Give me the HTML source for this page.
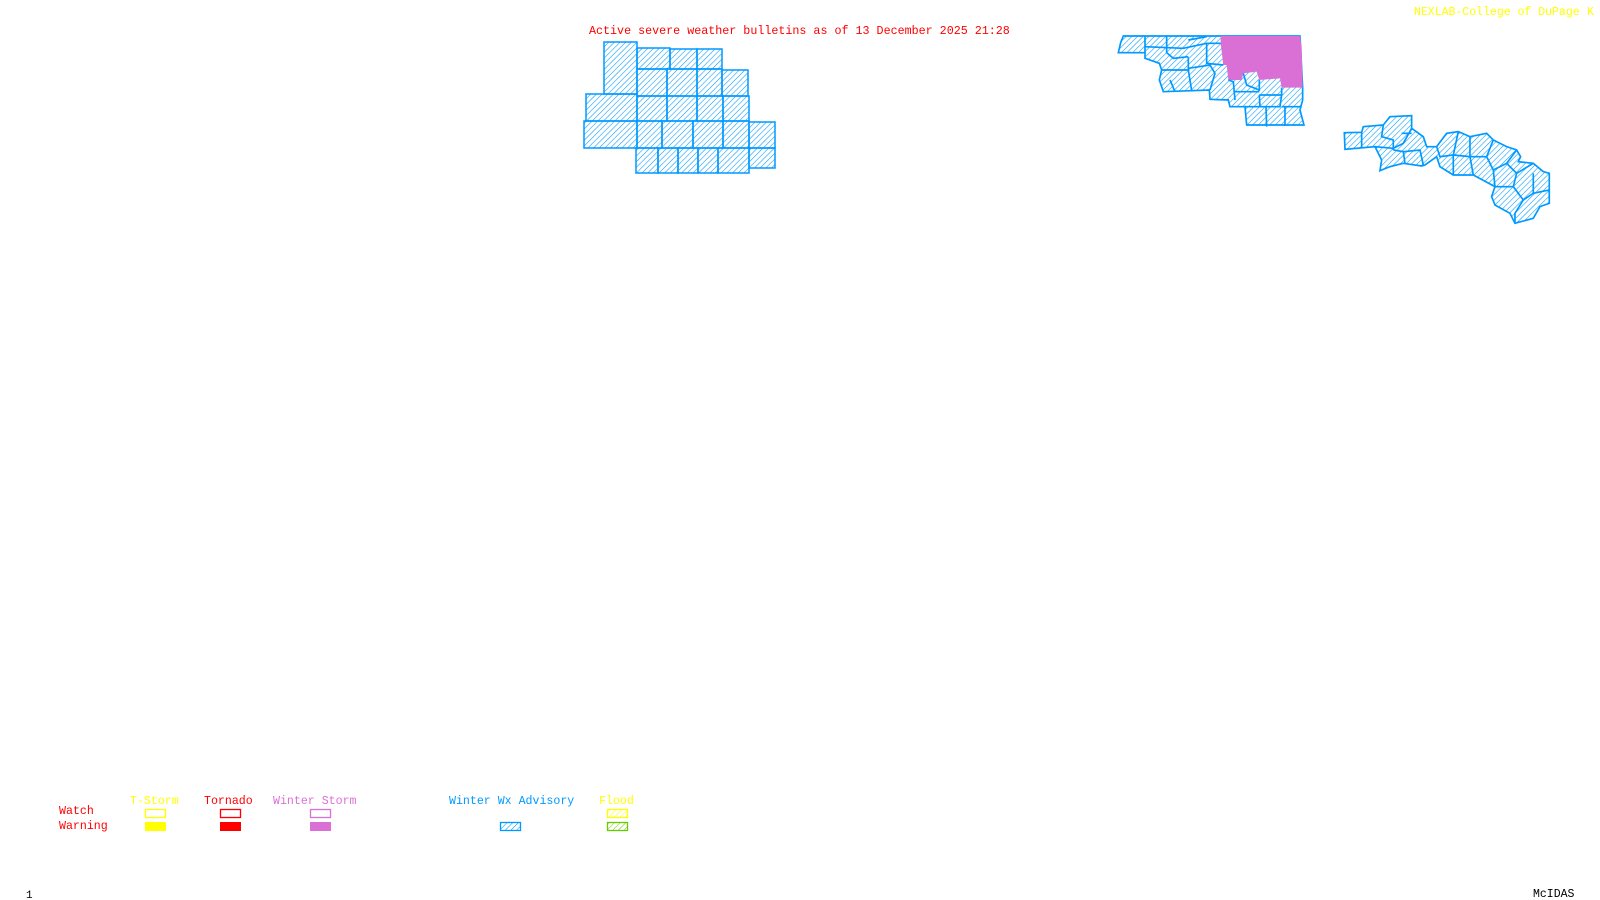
<!DOCTYPE html>
<html><head><meta charset="utf-8"><style>
html,body{margin:0;padding:0;background:#fff;width:1600px;height:900px;overflow:hidden}
svg{display:block}
text{font-family:"Liberation Mono","DejaVu Sans Mono",monospace}
</style></head><body>
<svg width="1600" height="900" viewBox="0 0 1600 900" xmlns="http://www.w3.org/2000/svg">
<defs>
<pattern id="h" patternUnits="userSpaceOnUse" width="4" height="4" patternTransform="rotate(45)">
<line x1="0" y1="0" x2="0" y2="4" stroke="#0099ff" stroke-width="1.1"/></pattern>
<pattern id="h3" patternUnits="userSpaceOnUse" width="12" height="12" patternTransform="rotate(45)">
<line x1="0" y1="0" x2="0" y2="12" stroke="#0099ff" stroke-width="3.3"/></pattern>
<pattern id="hy" patternUnits="userSpaceOnUse" width="4" height="4" patternTransform="rotate(45)">
<line x1="0" y1="0" x2="0" y2="4" stroke="#ffff00" stroke-width="1"/></pattern>
<pattern id="hg" patternUnits="userSpaceOnUse" width="4" height="4" patternTransform="rotate(45)">
<line x1="0" y1="0" x2="0" y2="4" stroke="#66cc00" stroke-width="1"/></pattern>
</defs>

<text x="589" y="34" font-size="11.7" fill="#ff0000">Active severe weather bulletins as of 13 December 2025 21:28</text>
<text x="1414" y="15" font-size="11.5" fill="#ffff00">NEXLAB-College of DuPage</text>
<text x="1587" y="15" font-size="11.5" fill="#ffff00">K</text>

<!-- cluster 1 -->
<g fill="url(#h)" stroke="#0099ff" stroke-width="1.5">
<rect x="604" y="42" width="33" height="52"/>
<rect x="637" y="48" width="33" height="21"/>
<rect x="670" y="49" width="27" height="20"/>
<rect x="697" y="49" width="25" height="20"/>
<rect x="637" y="69" width="30" height="27"/>
<rect x="667" y="69" width="30" height="27"/>
<rect x="697" y="69" width="25" height="27"/>
<rect x="722" y="70" width="26" height="26"/>
<rect x="586" y="94" width="51" height="27"/>
<rect x="637" y="96" width="30" height="25"/>
<rect x="667" y="96" width="30" height="25"/>
<rect x="697" y="96" width="26" height="25"/>
<rect x="723" y="96" width="26" height="25"/>
<rect x="584" y="121" width="53" height="27"/>
<rect x="637" y="121" width="25" height="27"/>
<rect x="662" y="121" width="31" height="27"/>
<rect x="693" y="121" width="30" height="27"/>
<rect x="723" y="121" width="26" height="27"/>
<rect x="749" y="122" width="26" height="26"/>
<rect x="636" y="148" width="22" height="25"/>
<rect x="658" y="148" width="20" height="25"/>
<rect x="678" y="148" width="20" height="25"/>
<rect x="698" y="148" width="20" height="25"/>
<rect x="718" y="148" width="31" height="25"/>
<rect x="749" y="148" width="26" height="20"/>
</g>

<!-- cluster 2 -->
<g transform="translate(1100,0) scale(0.3333)">
<polygon fill="url(#h3)" stroke="#0099ff" stroke-width="5" points="55,158 62,128 70,108 600,108 608,263 608,300 600,330 612,375 440,375 435,320 390,320 385,300 330,298 328,270 275,272 190,275 178,240 185,210 178,190 135,175 135,158"/>
<polygon fill="#da70d6" stroke="none" points="362,108 600,108 605,140 608,263 545,263 540,235 478,240 470,215 430,220 425,240 385,240 380,195 370,195 362,130"/>
<g fill="none" stroke="#0099ff" stroke-width="5">
<polyline points="135,108 135,158"/><polyline points="200,108 200,158 220,175 265,170"/>
<polyline points="135,140 250,145 320,130 362,130"/><polyline points="265,120 320,110"/>
<polyline points="185,210 265,210 265,172"/><polyline points="265,210 275,272"/>
<polyline points="320,130 320,190 370,195"/><polyline points="265,205 330,195 345,220 330,270"/>
<polyline points="385,240 400,245 405,300"/><polyline points="430,220 440,255 478,270 478,240"/>
<polyline points="478,285 545,285 545,263"/><polyline points="478,285 480,320 435,320"/>
<polyline points="480,320 540,320 545,285"/><polyline points="545,320 605,320"/>
<polyline points="498,320 500,380"/><polyline points="555,320 555,378"/>
<polyline points="210,240 225,275"/><polyline points="400,275 478,275"/>
</g>
</g>

<!-- cluster 3 -->
<g transform="translate(1100,0) scale(0.3333)">
<polygon fill="url(#h3)" stroke="#0099ff" stroke-width="5" points="733,398 785,397 790,380 850,375 870,350 935,347 935,385 970,410 980,440 1010,440 1040,400 1075,395 1110,410 1160,400 1180,420 1220,440 1250,450 1262,470 1255,485 1300,490 1330,515 1348,520 1348,610 1320,620 1300,655 1245,670 1230,640 1185,615 1175,590 1185,560 1120,525 1060,525 1020,500 1010,470 975,495 965,498 910,490 870,500 840,512 845,480 825,440 735,448"/>
<g fill="none" stroke="#0099ff" stroke-width="5">
<polyline points="785,397 785,445"/><polyline points="850,375 845,410 880,420 880,450"/>
<polyline points="825,440 880,445 910,430 935,385"/><polyline points="880,450 910,455 915,490"/>
<polyline points="910,455 960,450 970,495"/><polyline points="905,400 935,400"/>
<polyline points="1010,440 1020,470 1060,465 1075,395"/><polyline points="1060,465 1060,525"/>
<polyline points="1060,465 1110,470 1120,525"/><polyline points="1110,410 1110,470 1160,470 1180,420"/>
<polyline points="1160,470 1180,510 1220,490 1250,450"/><polyline points="1180,510 1185,560"/>
<polyline points="1220,490 1250,520 1300,490"/><polyline points="1250,520 1240,560 1270,600 1300,580 1300,520"/>
<polyline points="1240,560 1185,560"/><polyline points="1270,600 1245,640 1245,670"/>
<polyline points="1300,580 1348,570"/>
</g>
</g>

<!-- legend -->
<g font-size="11.6">
<text x="59" y="814" fill="#ff0000">Watch</text>
<text x="59" y="829" fill="#ff0000">Warning</text>
<text x="130" y="804" fill="#ffff00">T-Storm</text>
<text x="204" y="804" fill="#ff0000">Tornado</text>
<text x="273" y="804" fill="#da70d6">Winter Storm</text>
<text x="449" y="804" fill="#0099ff">Winter Wx Advisory</text>
<text x="599" y="804" fill="#ffff00">Flood</text>
</g>
<rect x="145.5" y="809.5" width="20" height="8" fill="none" stroke="#ffff00" stroke-width="1.3"/>
<rect x="145" y="822" width="21" height="9" fill="#ffff00"/>
<rect x="220.5" y="809.5" width="20" height="8" fill="none" stroke="#ff0000" stroke-width="1.3"/>
<rect x="220" y="822" width="21" height="9" fill="#ff0000"/>
<rect x="310.5" y="809.5" width="20" height="8" fill="none" stroke="#da70d6" stroke-width="1.3"/>
<rect x="310" y="822" width="21" height="9" fill="#da70d6"/>
<rect x="500.5" y="822.5" width="20" height="8" fill="url(#h)" stroke="#0099ff" stroke-width="1.3"/>
<rect x="607.5" y="809.5" width="20" height="8" fill="url(#hy)" stroke="#ffff00" stroke-width="1.3"/>
<rect x="607.5" y="822.5" width="20" height="8" fill="url(#hg)" stroke="#66cc00" stroke-width="1.3"/>

<text x="26" y="898" font-size="11" fill="#000">1</text>
<text x="1533" y="897" font-size="11.5" fill="#000">McIDAS</text>
</svg>
</body></html>
